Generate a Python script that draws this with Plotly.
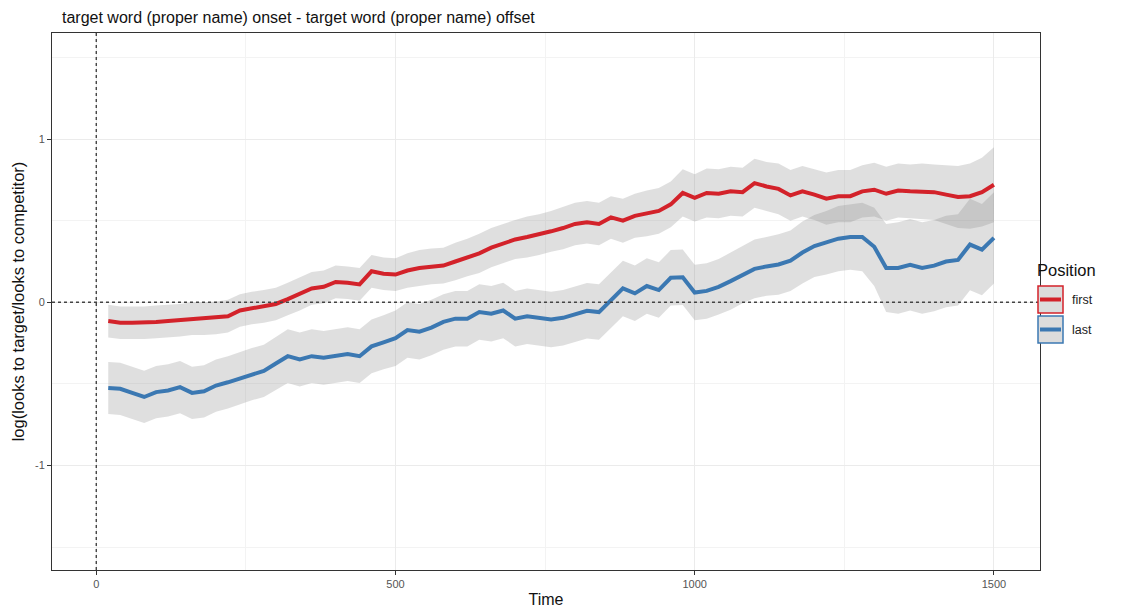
import plotly.graph_objects as go

time = list(range(20, 1501, 20))

first_mean = [-0.115, -0.125, -0.125, -0.125, -0.12, -0.115, -0.11, -0.10, -0.10, -0.095,
              -0.085, -0.05, -0.035, -0.025, -0.01, 0.02, 0.05, 0.085, 0.095, 0.125,
              0.12, 0.11, 0.19, 0.175, 0.17, 0.195, 0.21, 0.22, 0.225, 0.25,
              0.275, 0.30, 0.335, 0.36, 0.385, 0.40, 0.415, 0.435, 0.455, 0.48,
              0.49, 0.48, 0.52, 0.50, 0.53, 0.545, 0.56, 0.60, 0.67, 0.64,
              0.67, 0.665, 0.68, 0.675, 0.73, 0.71, 0.695, 0.655, 0.68, 0.66,
              0.635, 0.65, 0.65, 0.68, 0.69, 0.665, 0.685, 0.68, 0.68, 0.675,
              0.66, 0.645, 0.65, 0.675, 0.72]
first_se = [0.10, 0.10, 0.10, 0.10, 0.10, 0.10, 0.10, 0.10, 0.10, 0.10,
            0.10, 0.10, 0.10, 0.10, 0.10, 0.10, 0.10, 0.10, 0.10, 0.10,
            0.10, 0.10, 0.10, 0.10, 0.10, 0.105, 0.11, 0.11, 0.11, 0.115,
            0.115, 0.12, 0.12, 0.12, 0.12, 0.125, 0.125, 0.125, 0.13, 0.13,
            0.13, 0.13, 0.13, 0.135, 0.135, 0.14, 0.14, 0.14, 0.145, 0.145,
            0.15, 0.15, 0.15, 0.15, 0.15, 0.15, 0.155, 0.155, 0.155, 0.155,
            0.16, 0.16, 0.16, 0.16, 0.165, 0.165, 0.165, 0.165, 0.17, 0.17,
            0.18, 0.19, 0.2, 0.21, 0.23]

last_mean = [-0.525, -0.53, -0.555, -0.58, -0.55, -0.54, -0.52, -0.555, -0.545, -0.51,
             -0.49, -0.465, -0.44, -0.42, -0.375, -0.33, -0.35, -0.33, -0.34, -0.33,
             -0.317, -0.33, -0.27, -0.245, -0.22, -0.17, -0.18, -0.155, -0.12, -0.10,
             -0.10, -0.06, -0.07, -0.05, -0.10, -0.085, -0.095, -0.105, -0.095, -0.072,
             -0.052, -0.06, 0.01, 0.085, 0.055, 0.10, 0.075, 0.15, 0.153, 0.06,
             0.07, 0.095, 0.13, 0.17, 0.205, 0.22, 0.232, 0.255, 0.305, 0.345,
             0.365, 0.39, 0.40, 0.40, 0.34, 0.21, 0.21, 0.23, 0.21, 0.225,
             0.25, 0.26, 0.354, 0.323, 0.395]
last_se = [0.16, 0.16, 0.16, 0.16, 0.16, 0.16, 0.16, 0.16, 0.16, 0.16,
           0.16, 0.16, 0.16, 0.16, 0.165, 0.165, 0.165, 0.165, 0.165, 0.165,
           0.165, 0.165, 0.165, 0.165, 0.17, 0.17, 0.17, 0.17, 0.17, 0.17,
           0.17, 0.17, 0.17, 0.17, 0.17, 0.17, 0.17, 0.17, 0.17, 0.17,
           0.17, 0.17, 0.17, 0.17, 0.17, 0.17, 0.17, 0.17, 0.17, 0.17,
           0.17, 0.17, 0.175, 0.175, 0.18, 0.18, 0.185, 0.185, 0.19, 0.19,
           0.195, 0.2, 0.2, 0.21, 0.24, 0.27, 0.28, 0.28, 0.28, 0.28,
           0.28, 0.28, 0.28, 0.28, 0.28]

series_names = ["first", "last"]
series_colors = ["#D3222A", "#3B78B2"]
x_ticks = [0, 500, 1000, 1500]
y_ticks = [-1, 0, 1]

title_text = "target word (proper name) onset - target word (proper name) offset"
x_title = "Time"
y_title = "log(looks to target/looks to competitor)"
legend_title = "Position"

# page body has an 8px default margin: lay out the figure in screen coordinates minus 8
OFF = 8
W, H = 1132 - OFF, 613 - OFF
ML, MR, MT, MB = 52 - OFF, 92, 33 - OFF, 43
PW, PH = W - ML - MR, H - MT - MB


def px(xs):
    return (xs - OFF - ML) / PW


def py(ys):
    return (H - MB - (ys - OFF)) / PH


fig = go.Figure()
ribbon_fill = "rgba(128,128,128,0.25)"
for mean, se in [(first_mean, first_se), (last_mean, last_se)]:
    lo = [m - s for m, s in zip(mean, se)]
    hi = [m + s for m, s in zip(mean, se)]
    fig.add_trace(go.Scatter(x=time, y=lo, mode="lines", line=dict(width=0),
                             showlegend=False, hoverinfo="skip"))
    fig.add_trace(go.Scatter(x=time, y=hi, mode="lines", line=dict(width=0),
                             fill="tonexty", fillcolor=ribbon_fill,
                             showlegend=False, hoverinfo="skip"))

for name, mean, col in zip(series_names, [first_mean, last_mean], series_colors):
    fig.add_trace(go.Scatter(x=time, y=mean, mode="lines", name=name,
                             line=dict(color=col, width=4), showlegend=False))

# reference lines
fig.add_shape(type="line", xref="x", yref="paper", x0=0, x1=0, y0=0, y1=1,
              line=dict(color="#444444", width=1.4, dash="dot"))
fig.add_shape(type="line", xref="paper", yref="y", x0=0, x1=1, y0=0, y1=0,
              line=dict(color="#444444", width=1.4, dash="dot"))

# manual legend (ggplot style)
fig.add_annotation(x=px(1035), y=py(270), xref="paper", yref="paper",
                   text=legend_title, showarrow=False, xanchor="left", yanchor="middle",
                   font=dict(size=16.5, color="#111111"))
key_tops = [286, 316]
for name, col, top in zip(series_names, series_colors, key_tops):
    fig.add_shape(type="rect", xref="paper", yref="paper",
                  x0=px(1038), x1=px(1063), y0=py(top), y1=py(top + 27),
                  fillcolor="#DCDCDC", line=dict(color=col, width=1.5))
    fig.add_shape(type="line", xref="paper", yref="paper",
                  x0=px(1040), x1=px(1061), y0=py(top + 13.5), y1=py(top + 13.5),
                  line=dict(color=col, width=4))
    fig.add_annotation(x=px(1070), y=py(top + 14), xref="paper", yref="paper",
                       text=name, showarrow=False, xanchor="left", yanchor="middle",
                       font=dict(size=12.5, color="#222222"))

fig.add_annotation(x=px(60), y=py(17), xref="paper", yref="paper", text=title_text,
                   showarrow=False, xanchor="left", yanchor="middle",
                   font=dict(size=16, color="#111111"))

grid = "#EBEBEB"
fig.update_layout(
    width=W, height=H,
    margin=dict(l=ML, r=MR, t=MT, b=MB, autoexpand=False),
    paper_bgcolor="white", plot_bgcolor="white",
    font=dict(family="Liberation Sans, Arial, sans-serif", color="#4D4D4D"),
    showlegend=False,
    xaxis=dict(range=[-74, 1577], tickvals=x_ticks, ticktext=[str(v) for v in x_ticks],
               automargin=False,
               showgrid=True, gridcolor=grid, gridwidth=1.2, zeroline=False,
               minor=dict(tickvals=[250, 750, 1250], showgrid=True, gridcolor="#F3F3F3", gridwidth=1),
               ticks="outside", ticklen=4, tickcolor="#333333", tickfont=dict(size=11, color="#555555"),
               showline=True, linecolor="#333333", linewidth=1, mirror=True,
               title=dict(text=x_title, font=dict(size=16, color="#111111"), standoff=4)),
    yaxis=dict(range=[-1.64, 1.65], tickvals=y_ticks, ticktext=[str(v) for v in y_ticks],
               automargin=False,
               showgrid=True, gridcolor=grid, gridwidth=1.2, zeroline=False,
               minor=dict(tickvals=[-1.5, -0.5, 0.5, 1.5], showgrid=True, gridcolor="#F3F3F3", gridwidth=1),
               ticks="outside", ticklen=4, tickcolor="#333333", tickfont=dict(size=11, color="#555555"),
               showline=True, linecolor="#333333", linewidth=1, mirror=True,
               title=dict(text=y_title, font=dict(size=16.5, color="#111111"), standoff=6)),
)

fig.write_html("out.html")
